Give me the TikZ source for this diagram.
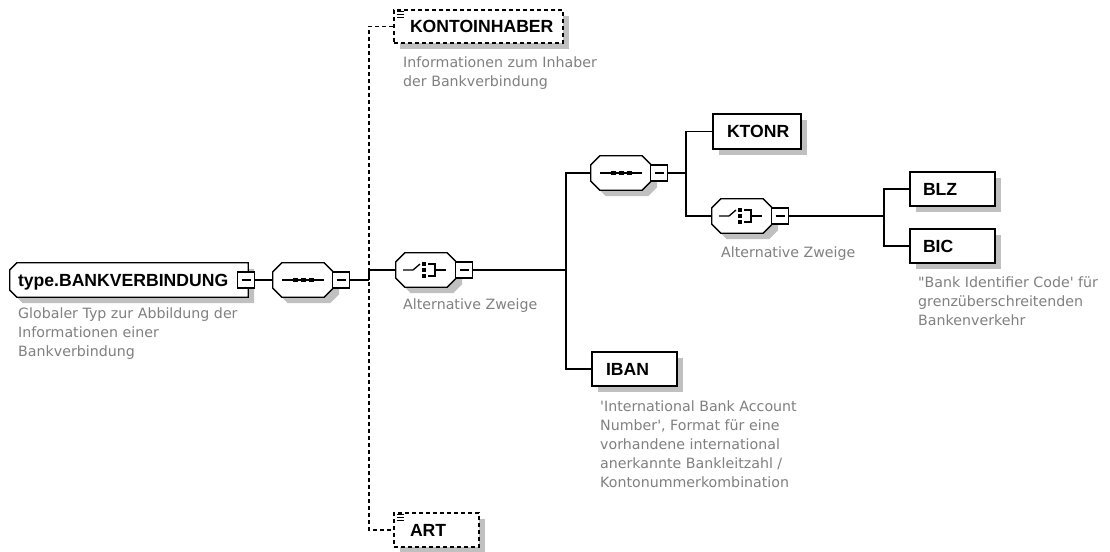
\documentclass[tikz,border=0pt]{standalone}
\usepackage{fontspec}
\newfontfamily\descfont{DejaVu Sans}
\newfontfamily\labelfont{Liberation Sans}
\usetikzlibrary{shadows}
\definecolor{descgray}{RGB}{128,128,128}
\definecolor{shadowgray}{RGB}{192,192,192}
\tikzset{
  conn/.style={line width=1.3pt},
  optconn/.style={line width=1.3pt, dash pattern=on 4pt off 3pt},
  shad/.style={drop shadow={shadow xshift=6pt, shadow yshift=-6pt, fill=shadowgray, opacity=1}},
  lblfont/.style={font=\labelfont\bfseries\fontsize{17.6}{20}\selectfont},
  elem/.style={draw, line width=1.3pt, fill=white, shad, inner ysep=0pt, inner xsep=14pt,
    minimum height=34pt, align=left, lblfont, text height=12.6pt, text depth=0pt},
  optelem/.style={elem, dash pattern=on 4pt off 3pt, inner xsep=16pt},
  hidden/.style={inner sep=0pt, minimum width=60pt, minimum height=34pt},
  octo/.style={draw, line width=1.3pt, fill=white, shad},
  minusbox/.style={draw, line width=1.3pt, fill=white, inner sep=0pt, minimum width=17pt, minimum height=16pt,
    path picture={\draw[line width=1.1pt] ([xshift=4pt]path picture bounding box.west) -- ([xshift=-4pt]path picture bounding box.east);}},
  desc/.style={anchor=north west, inner sep=0pt, align=left, text=descgray, font=\descfont\fontsize{14.2}{19}\selectfont},
  lbl/.style={inner sep=0pt, lblfont, text height=12.6pt, text depth=0pt},
  icon/.style={line width=1.3pt},
}
\newcommand{\compshape}[1]{\draw[octo] ([xshift=9pt]#1.north west) -- ([xshift=-9pt]#1.north east) -- ([yshift=-9pt]#1.north east) -- ([yshift=9pt]#1.south east) -- ([xshift=-9pt]#1.south east) -- ([xshift=9pt]#1.south west) -- ([yshift=9pt]#1.south west) -- ([yshift=-9pt]#1.north west) -- cycle;}
\newcommand{\seqicon}[1]{%
  \draw[icon] ([xshift=-21pt]#1.center) -- ([xshift=21pt]#1.center);
  \foreach \dx in {-8,0,8} {\fill ([xshift=\dx pt]#1.center) ++(-2.5pt,-2pt) rectangle ++(5pt,4pt);}}
\newcommand{\choiceicon}[1]{%
  \draw[icon] ([xshift=-23pt]#1.center) -- ([xshift=-13pt]#1.center) -- ([xshift=-6pt,yshift=6pt]#1.center);
  \foreach \dy in {-6,0,6} {\fill ([xshift=-2.5pt,yshift=\dy pt]#1.center) ++(-2pt,-2pt) rectangle ++(4pt,4pt);}
  \draw[icon] ([xshift=2pt,yshift=6pt]#1.center) -- ([xshift=9pt,yshift=6pt]#1.center) -- ([xshift=9pt,yshift=-6pt]#1.center) -- ([xshift=2pt,yshift=-6pt]#1.center);
  \draw[icon] ([xshift=9pt]#1.center) -- ([xshift=20pt]#1.center);}
\newcommand{\opticon}[1]{%
  \foreach \k in {0,1,2} {\draw[line width=1pt] ([xshift=4pt,yshift=-2.5pt-3*\k pt]#1.north west) -- ++(7pt,0pt);}}
\begin{document}
\begin{tikzpicture}[x=1pt,y=-1pt]
\fill[white] (0,0) rectangle (1110,551);
\useasboundingbox (0,0) rectangle (1110,551);

% global type
\node[inner sep=0pt, minimum width=238pt, minimum height=34pt] (type) at (129,280) {};
\draw[octo] ([xshift=7pt]type.north west) -- (type.north east) -- (type.south east) -- ([xshift=7pt]type.south west) -- ([yshift=7pt]type.south west) -- ([yshift=-7pt]type.north west) -- cycle;
\node[lbl, anchor=west] (typelbl) at ([xshift=8pt]type.west) {type.BANKVERBINDUNG};
\node[minusbox] (tm) at (246,280) {};
\node[desc] (tdesc) at (18,308) {Globaler Typ zur Abbildung der\\Informationen einer\\Bankverbindung};

% sequence 1
\node[hidden] (s1) at (303,280) {};
\compshape{s1}
\seqicon{s1}
\node[minusbox] (s1m) at (341,280) {};

% optional elements
\node[optelem, text width=137pt, minimum height=33pt] (kont) at (478.5,26.5) {KONTOINHABER};
\opticon{kont}
\node[desc] (kdesc) at (403,57) {Informationen zum Inhaber\\der Bankverbindung};
\node[optelem, text width=53pt] (art) at (436.5,530) {ART};
\opticon{art}

% choice 1
\node[hidden] (c1) at (426,270) {};
\compshape{c1}
\choiceicon{c1}
\node[minusbox] (c1m) at (464,270) {};
\node[desc] (c1lab) at (403,299) {Alternative Zweige};

% IBAN
\node[elem, text width=57pt] (iban) at (634.5,369) {IBAN};
\node[desc] (ibandesc) at (600,401) {'International Bank Account\\Number', Format für eine\\vorhandene international\\anerkannte Bankleitzahl /\\Kontonummerkombination};

% sequence 2
\node[hidden] (s2) at (621,173) {};
\compshape{s2}
\seqicon{s2}
\node[minusbox] (s2m) at (659,173) {};

% KTONR
\node[elem, text width=60pt, minimum height=35pt] (ktonr) at (757,131.5) {KTONR};

% choice 2
\node[hidden] (c2) at (742,216) {};
\compshape{c2}
\choiceicon{c2}
\node[minusbox] (c2m) at (780,216) {};
\node[desc] (c2lab) at (721,247) {Alternative Zweige};

% BLZ / BIC
\node[elem, inner xsep=13pt, text width=59pt] (blz) at (952.5,189) {BLZ};
\node[elem, inner xsep=13pt, text width=59pt] (bic) at (952.5,246) {BIC};
\node[desc] (bicdesc) at (918,277) {"Bank Identifier Code' für\\grenzüberschreitenden\\Bankenverkehr};

% connectors
\coordinate (j1) at (369,280);
\coordinate (j2) at (566,270);
\coordinate (j3) at (686,173);
\coordinate (j4) at (884,216);
\draw[conn] (tm.east) -- (s1.west);
\draw[conn] (s1m.east) -- (j1);
\draw[optconn] (kont.west) -| (j1) |- (art.west);
\draw[conn] (j1) |- (c1.west);
\draw[conn] (c1m.east) -- (j2);
\draw[conn] (s2.west) -| (j2) |- (iban.west);
\draw[conn] (s2m.east) -- (j3);
\draw[conn] (ktonr.west) -| (j3) |- (c2.west);
\draw[conn] (c2m.east) -- (j4);
\draw[conn] (blz.west) -| (j4) |- (bic.west);
\end{tikzpicture}
\end{document}
